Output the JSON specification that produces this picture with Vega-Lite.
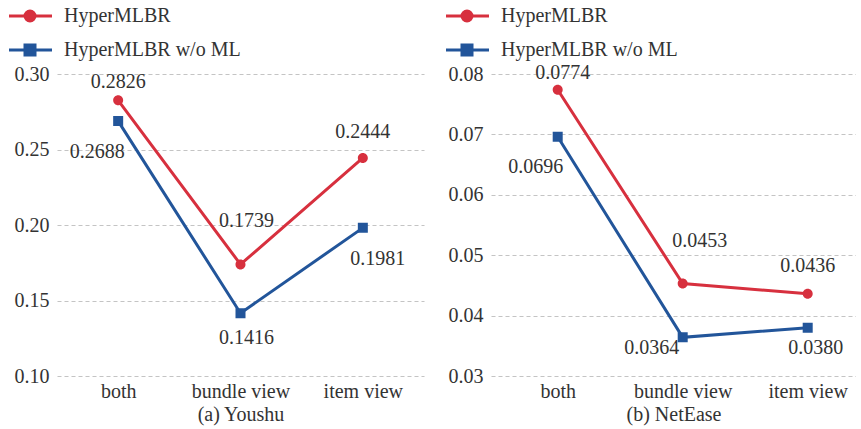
{
  "$schema": "https://vega.github.io/schema/vega-lite/v6.json",
  "padding": {"left": 14, "top": 6, "right": 0, "bottom": 4},
  "background": "white",
  "config": {
    "font": "Liberation Serif",
    "view": {"stroke": null},
    "point": {"strokeWidth": 3},
    "text": {"font": "Liberation Serif", "fontSize": 20, "color": "#333"},
    "axis": {"labelFont": "Liberation Serif", "titleFont": "Liberation Serif", "labelColor": "#333", "titleColor": "#333", "labelFontSize": 20, "titleFontSize": 20, "titleFontWeight": "normal"},
    "axisY": {"domain": false, "ticks": false, "labelPadding": 8, "gridColor": "#c4c4c4", "gridDash": [4, 3], "gridWidth": 1.2, "title": null},
    "axisX": {"domain": false, "ticks": false, "grid": false, "labelAngle": 0, "labelPadding": 5, "titlePadding": 3},
    "legend": {"labelFont": "Liberation Serif", "labelFontSize": 20, "labelColor": "#333", "labelLimit": 0, "symbolSize": 100, "symbolStrokeWidth": 3, "symbolOpacity": 1, "labelOffset": 24, "rowPadding": 12, "padding": 0, "title": null}
  },
  "datasets": {
    "youshu": [
      {"view": "both", "method": "HyperMLBR", "value": 0.2826},
      {"view": "bundle view", "method": "HyperMLBR", "value": 0.1739},
      {"view": "item view", "method": "HyperMLBR", "value": 0.2444},
      {"view": "both", "method": "HyperMLBR w/o ML", "value": 0.2688},
      {"view": "bundle view", "method": "HyperMLBR w/o ML", "value": 0.1416},
      {"view": "item view", "method": "HyperMLBR w/o ML", "value": 0.1981}
    ],
    "netease": [
      {"view": "both", "method": "HyperMLBR", "value": 0.0774},
      {"view": "bundle view", "method": "HyperMLBR", "value": 0.0453},
      {"view": "item view", "method": "HyperMLBR", "value": 0.0436},
      {"view": "both", "method": "HyperMLBR w/o ML", "value": 0.0696},
      {"view": "bundle view", "method": "HyperMLBR w/o ML", "value": 0.0364},
      {"view": "item view", "method": "HyperMLBR w/o ML", "value": 0.0380}
    ]
  },
  "spacing": 24,
  "resolve": {
    "scale": {"y": "independent", "x": "independent", "fill": "independent", "stroke": "independent", "shape": "independent"},
    "legend": {"fill": "independent", "stroke": "independent", "shape": "independent"}
  },
  "hconcat": [
    {
      "width": 367, "height": 302,
      "data": {"name": "youshu"},
      "encoding": {
        "x": {"field": "view", "type": "nominal", "sort": ["both", "bundle view", "item view"], "scale": {"type": "point", "padding": 0.5}, "axis": {"title": "(a) Youshu"}},
        "y": {"field": "value", "type": "quantitative", "scale": {"domain": [0.10, 0.30], "nice": false, "zero": false}, "axis": {"values": [0.10, 0.15, 0.20, 0.25, 0.30], "format": ".2f"}}
      },
      "layer": [
        {"mark": {"type": "line", "strokeWidth": 3},
         "encoding": {"stroke": {"field": "method", "type": "nominal", "scale": {"domain": ["HyperMLBR", "HyperMLBR w/o ML"], "range": ["#d7303e", "#22559a"]}, "legend": {"orient": "none", "legendX": -37, "legendY": -68, "direction": "vertical"}}}},
        {"mark": {"type": "point", "filled": true, "opacity": 1, "size": 100},
         "encoding": {
           "fill": {"field": "method", "type": "nominal", "scale": {"domain": ["HyperMLBR", "HyperMLBR w/o ML"], "range": ["#d7303e", "#22559a"]}, "legend": {"orient": "none", "legendX": -37, "legendY": -68, "direction": "vertical"}},
           "shape": {"field": "method", "type": "nominal", "scale": {"domain": ["HyperMLBR", "HyperMLBR w/o ML"], "range": ["M-4.2,0H4.4M1,0A1,1 0 1,1 -1,0A1,1 0 1,1 1,0Z", "M-4.2,0H4.4M-1,-1H1V1H-1Z"]}, "legend": {"orient": "none", "legendX": -37, "legendY": -68, "direction": "vertical"}}}},
        {"transform": [{"filter": "datum.method === 'HyperMLBR' && datum.view === 'both'"}], "mark": {"type": "text", "dx": 0, "dy": -18}, "encoding": {"text": {"field": "value", "format": ".4f"}}},
        {"transform": [{"filter": "datum.method !== 'HyperMLBR' && datum.view === 'both'"}], "mark": {"type": "text", "dx": -21, "dy": 31}, "encoding": {"text": {"field": "value", "format": ".4f"}}},
        {"transform": [{"filter": "datum.method === 'HyperMLBR' && datum.view === 'bundle view'"}], "mark": {"type": "text", "dx": 6, "dy": -43}, "encoding": {"text": {"field": "value", "format": ".4f"}}},
        {"transform": [{"filter": "datum.method !== 'HyperMLBR' && datum.view === 'bundle view'"}], "mark": {"type": "text", "dx": 6, "dy": 25}, "encoding": {"text": {"field": "value", "format": ".4f"}}},
        {"transform": [{"filter": "datum.method === 'HyperMLBR' && datum.view === 'item view'"}], "mark": {"type": "text", "dx": 0, "dy": -26}, "encoding": {"text": {"field": "value", "format": ".4f"}}},
        {"transform": [{"filter": "datum.method !== 'HyperMLBR' && datum.view === 'item view'"}], "mark": {"type": "text", "dx": 15, "dy": 31}, "encoding": {"text": {"field": "value", "format": ".4f"}}}
      ]
    },
    {
      "width": 365, "height": 302,
      "data": {"name": "netease"},
      "encoding": {
        "x": {"field": "view", "type": "nominal", "sort": ["both", "bundle view", "item view"], "scale": {"type": "point", "padding": 0.46, "align": 0.58}, "axis": {"title": "(b) NetEase"}},
        "y": {"field": "value", "type": "quantitative", "scale": {"domain": [0.03, 0.08], "nice": false, "zero": false}, "axis": {"values": [0.03, 0.04, 0.05, 0.06, 0.07, 0.08], "format": ".2f"}}
      },
      "layer": [
        {"mark": {"type": "line", "strokeWidth": 3},
         "encoding": {"stroke": {"field": "method", "type": "nominal", "scale": {"domain": ["HyperMLBR", "HyperMLBR w/o ML"], "range": ["#d7303e", "#22559a"]}, "legend": {"orient": "none", "legendX": -34, "legendY": -68, "direction": "vertical"}}}},
        {"mark": {"type": "point", "filled": true, "opacity": 1, "size": 100},
         "encoding": {
           "fill": {"field": "method", "type": "nominal", "scale": {"domain": ["HyperMLBR", "HyperMLBR w/o ML"], "range": ["#d7303e", "#22559a"]}, "legend": {"orient": "none", "legendX": -34, "legendY": -68, "direction": "vertical"}},
           "shape": {"field": "method", "type": "nominal", "scale": {"domain": ["HyperMLBR", "HyperMLBR w/o ML"], "range": ["M-4.2,0H4.4M1,0A1,1 0 1,1 -1,0A1,1 0 1,1 1,0Z", "M-4.2,0H4.4M-1,-1H1V1H-1Z"]}, "legend": {"orient": "none", "legendX": -34, "legendY": -68, "direction": "vertical"}}}},
        {"transform": [{"filter": "datum.method === 'HyperMLBR' && datum.view === 'both'"}], "mark": {"type": "text", "dx": 5, "dy": -17}, "encoding": {"text": {"field": "value", "format": ".4f"}}},
        {"transform": [{"filter": "datum.method !== 'HyperMLBR' && datum.view === 'both'"}], "mark": {"type": "text", "dx": -22, "dy": 30}, "encoding": {"text": {"field": "value", "format": ".4f"}}},
        {"transform": [{"filter": "datum.method === 'HyperMLBR' && datum.view === 'bundle view'"}], "mark": {"type": "text", "dx": 17, "dy": -43}, "encoding": {"text": {"field": "value", "format": ".4f"}}},
        {"transform": [{"filter": "datum.method !== 'HyperMLBR' && datum.view === 'bundle view'"}], "mark": {"type": "text", "dx": -31, "dy": 11}, "encoding": {"text": {"field": "value", "format": ".4f"}}},
        {"transform": [{"filter": "datum.method === 'HyperMLBR' && datum.view === 'item view'"}], "mark": {"type": "text", "dx": 0, "dy": -28}, "encoding": {"text": {"field": "value", "format": ".4f"}}},
        {"transform": [{"filter": "datum.method !== 'HyperMLBR' && datum.view === 'item view'"}], "mark": {"type": "text", "dx": 8, "dy": 20}, "encoding": {"text": {"field": "value", "format": ".4f"}}}
      ]
    }
  ]
}
